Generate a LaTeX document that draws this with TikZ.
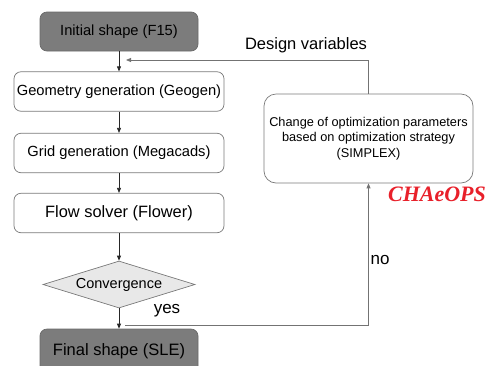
\documentclass[tikz,border=0pt]{standalone}
\usepackage{fontspec}
\setmainfont{Liberation Sans}
\newfontfamily\serifcha{Liberation Serif}
\usetikzlibrary{shapes.geometric,arrows.meta}
\definecolor{darkbox}{HTML}{7C7C7C}
\definecolor{boxline}{HTML}{7A7A7A}
\definecolor{diafill}{HTML}{E8E8E8}
\definecolor{chared}{HTML}{E8202A}
\tikzset{
  base/.style={rectangle, rounded corners=7pt, draw=boxline, line width=0.7pt, inner sep=0pt, text=black},
  darkstep/.style={base, fill=darkbox, draw=darkbox!85!black, minimum width=158pt, minimum height=39pt},
  whitestep/.style={base, fill=white, minimum width=210pt, minimum height=39.5pt},
  arr/.style={draw=black!85, line width=0.7pt, -{Triangle[length=5pt,width=4pt]}},
  garr/.style={draw=black!55, line width=0.8pt, -{Triangle[length=5pt,width=4pt]}},
}
\begin{document}
\begin{tikzpicture}[x=1pt,y=-1pt]
\useasboundingbox (0,0) rectangle (495,365);
\clip (0,0) rectangle (495,365);
\node[darkstep, font=\fontsize{14.7}{16}\selectfont] (init) at (119,31.5) {Initial shape (F15)};
\node[whitestep, font=\fontsize{14.7}{16}\selectfont] (geo) at (119,91.5) {Geometry generation (Geogen)};
\node[whitestep, font=\fontsize{14.7}{16}\selectfont] (grid) at (119,153) {Grid generation (Megacads)};
\node[whitestep, font=\fontsize{16.4}{18}\selectfont] (flow) at (119,213) {Flow solver (Flower)};
\node[diamond, shape aspect=3.23, draw=boxline, fill=diafill, line width=0.7pt, inner sep=0pt, minimum width=152pt, minimum height=47pt, font=\fontsize{14.5}{16}\selectfont] (conv) at (119,284.5) {Convergence};
\node[darkstep, minimum height=44pt, font=\fontsize{16.5}{18}\selectfont] (final) at (119,351) {\raisebox{2pt}{Final shape (SLE)}};
\node[base, rounded corners=12pt, fill=white, minimum width=209pt, minimum height=89pt, align=center, font=\fontsize{12.75}{15.5}\selectfont] (simplex) at (368.5,138.5) {Change of optimization parameters\\based on optimization strategy\\(SIMPLEX)};
\node[font=\fontsize{16.5}{18}\selectfont] (dv) at (306,45) {Design variables};
\node[font=\fontsize{17}{19}\selectfont] (yes) at (167,311) {yes};
\node[font=\fontsize{17}{19}\selectfont] (no) at (380,260) {no};
\node[font=\serifcha\bfseries\itshape\fontsize{22}{24}\selectfont, text=chared] (cha) at (437,194) {CHAeOPS};
\draw[arr] (init) -- (geo);
\draw[arr] (geo) -- (grid);
\draw[arr] (grid) -- (flow);
\draw[arr] (flow) -- (conv);
\draw[arr] (conv) -- (final.north);
\coordinate (dvend) at (126,60);
\coordinate (nostart) at (125,325);
\draw[garr] (simplex.north) |- (dvend);
\draw[garr] (nostart) -| (simplex.south);
\end{tikzpicture}
\end{document}
